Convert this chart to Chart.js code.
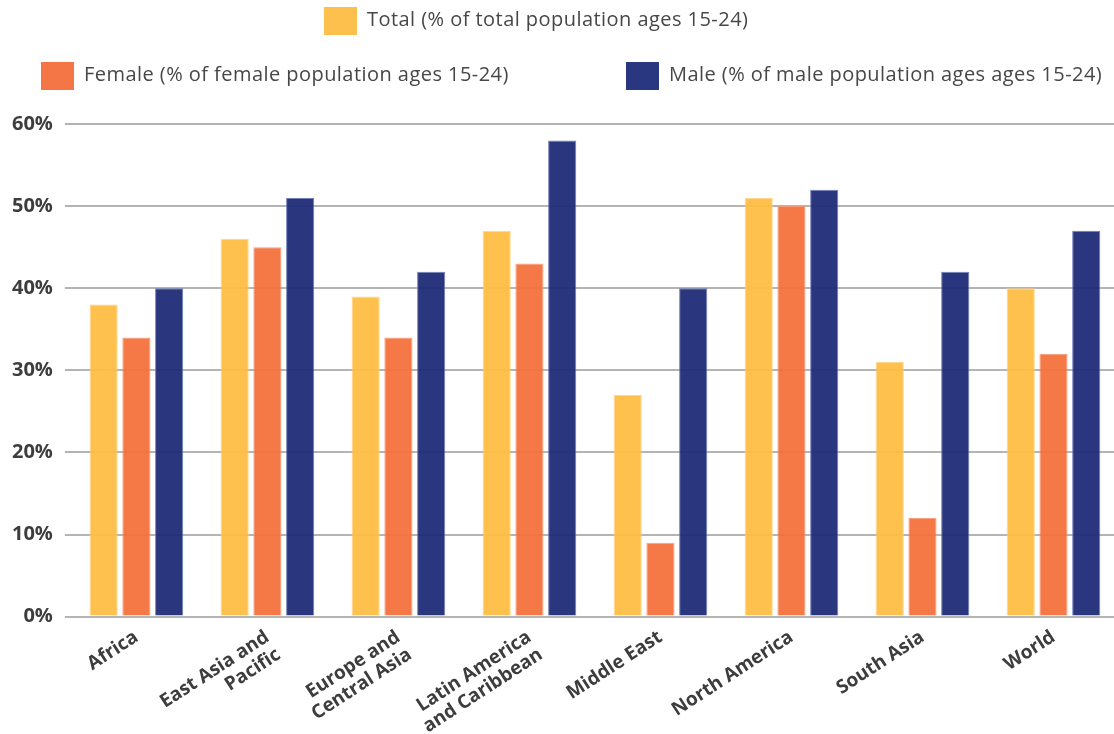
<!DOCTYPE html>
<html>
<head>
<meta charset="utf-8">
<script src="https://cdn.jsdelivr.net/npm/chart.js@4.4.1/dist/chart.umd.min.js"></script>
<style>
    html, body { margin: 0; padding: 0; background: #fff; overflow: hidden; }
    #wrap { width: 1120px; height: 740px; }
</style>
</head>
<body>
<div id="wrap"><canvas id="youth-chart" width="1120" height="740"></canvas></div>
<script>
// Categories and series
const regions = [
    ["Africa"],
    ["East Asia and", "Pacific"],
    ["Europe and", "Central Asia"],
    ["Latin America", "and Caribbean"],
    ["Middle East"],
    ["North America"],
    ["South Asia"],
    ["World"],
];
const totalPct = [38, 46, 39, 47, 27, 51, 31, 40];
const femalePct = [34, 45, 34, 43, 9, 50, 12, 32];
const malePct = [40, 51, 42, 58, 40, 52, 42, 47];

const seriesLabels = [
    "Total (% of total population ages 15-24)",
    "Female (% of female population ages 15-24)",
    "Male (% of male population ages ages 15-24)",
];
const yTicks = [0, 10, 20, 30, 40, 50, 60];

const fontFamily = "'Open Sans', Lato, sans-serif";
const textColor = "#3d3d3d";

// Legend boxes placed in two rows above the plot
const legendSpots = [
    { x: 324, y: 7 },
    { x: 41, y: 62 },
    { x: 626, y: 62 },
];

const rowLegend = {
    id: "rowLegend",
    afterDraw(chart) {
        const ctx = chart.ctx;
        ctx.save();
        ctx.font = "20px " + fontFamily;
        ctx.letterSpacing = "0.45px";
        ctx.textBaseline = "middle";
        ctx.textAlign = "left";
        chart.data.datasets.forEach((ds, i) => {
            const spot = legendSpots[i];
            ctx.fillStyle = ds.legendColor;
            ctx.fillRect(spot.x, spot.y, 33, 28);
            ctx.fillStyle = "#474747";
            ctx.fillText(ds.label, spot.x + 43, spot.y + 13);
        });
        ctx.restore();
    },
};

const barData = {
    labels: regions,
    datasets: [
        {
            label: seriesLabels[0],
            data: totalPct,
            backgroundColor: "rgba(254, 189, 66, 0.94)",
            borderColor: "rgba(255, 210, 130, 0.9)",
            legendColor: "#fec04c",
            borderWidth: 1,
        },
        {
            label: seriesLabels[1],
            data: femalePct,
            backgroundColor: "rgba(244, 112, 60, 0.94)",
            borderColor: "rgba(248, 150, 112, 0.9)",
            legendColor: "#f47646",
            borderWidth: 1,
        },
        {
            label: seriesLabels[2],
            data: malePct,
            backgroundColor: "rgba(29, 42, 118, 0.94)",
            borderColor: "rgba(100, 112, 175, 0.9)",
            legendColor: "#293680",
            borderWidth: 1,
        },
    ],
};

const barConfig = {
    type: "bar",
    data: barData,
    options: {
        responsive: false,
        animation: false,
        devicePixelRatio: 1,
        categoryPercentage: 0.75,
        barPercentage: 0.86,
        layout: { padding: { top: 124, right: 1, bottom: 0, left: 0 } },
        plugins: {
            legend: { display: false },
            tooltip: { enabled: false },
        },
        scales: {
            x: {
                grid: { display: false },
                border: { display: false },
                ticks: {
                    color: textColor,
                    font: { family: fontFamily, size: 19, weight: "bold", lineHeight: 1.1 },
                    minRotation: 33,
                    maxRotation: 33,
                    autoSkip: false,
                    padding: 2,
                },
            },
            y: {
                min: yTicks[0],
                max: yTicks[yTicks.length - 1],
                afterBuildTicks: (axis) => {
                    axis.ticks = yTicks.map((v) => ({ value: v }));
                },
                grid: {
                    color: "#b4b4b4",
                    lineWidth: 2,
                    tickLength: 6,
                },
                border: { display: false },
                ticks: {
                    color: textColor,
                    font: { family: fontFamily, size: 20, weight: "bold" },
                    padding: 12,
                    callback: (v) => v + "%",
                },
            },
        },
    },
    plugins: [rowLegend],
};

const youthChart = new Chart(document.getElementById("youth-chart"), barConfig);
</script>
</body>
</html>
